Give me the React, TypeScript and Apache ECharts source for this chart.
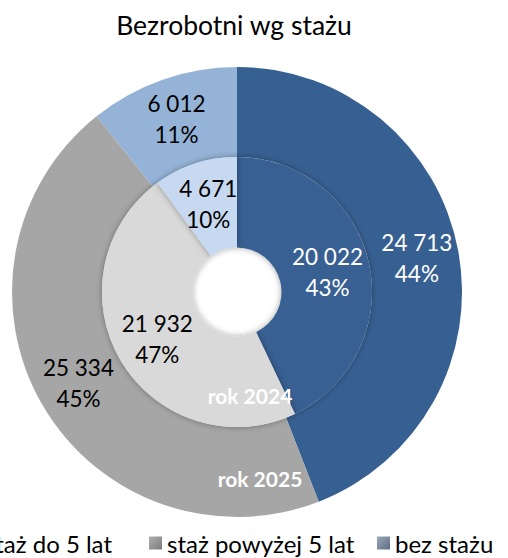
import React, { useEffect, useRef } from "react";
import * as echarts from "echarts";

const categories = ["staż do 5 lat", "staż powyżej 5 lat", "bez stażu"];
const values2025 = [24713, 25334, 6012];
const values2024 = [20022, 21932, 4671];
const outerColors = ["#376092", "#A6A6A6", "#95B3D7"];
const innerColors = ["#376092", "#D9D9D9", "#C6D9F1"];
const outerLabelColors = ["#ffffff", "#000000", "#000000"];
const innerLabelColors = ["#ffffff", "#000000", "#000000"];
const titleText = "Bezrobotni wg stażu";
const ringLabels = ["rok 2024", "rok 2025"];

const FONT = "Lato";

function fmt(v: number): string {
  return String(v).replace(/\B(?=(\d{3})+(?!\d))/g, " ");
}

export default function App() {
  const ref = useRef<HTMLDivElement>(null);
  useEffect(() => {
    document.body.style.margin = "0";
    if (!ref.current) return;
    const chart = echarts.init(ref.current, undefined, { renderer: "svg" });

    const mkData = (vals: number[], colors: string[], labelColors: string[]) =>
      vals.map((v, i) => ({
        name: categories[i],
        value: v,
        itemStyle: { color: colors[i] },
        label: { color: labelColors[i] },
      }));

    const labelCfg = {
      show: true,
      position: "inside",
      rotate: 0,
      fontFamily: FONT,
      fontSize: 22.5,
      lineHeight: 31,
      align: "center",
      formatter: (p: any) => `${fmt(p.value)}\n${p.percent}%`,
    };

    const legendMarker = (c1: string, c2: string) =>
      new echarts.graphic.LinearGradient(0, 0, 1, 1, [
        { offset: 0, color: c1 },
        { offset: 1, color: c2 },
      ]);

    const legendBase = {
      orient: "horizontal",
      icon: "rect",
      itemWidth: 13,
      itemHeight: 13,
      top: 525,
      selectedMode: false,
      textStyle: { fontFamily: FONT, fontSize: 24, color: "#000", lineHeight: 26 },
    };

    const ringLabel = (text: string, x: number, y: number) => ({
      type: "text",
      x,
      y,
      z: 100,
      style: {
        text,
        fontFamily: FONT,
        fontWeight: "bold",
        fontSize: 21,
        fill: "#fff",
        textAlign: "center",
        textVerticalAlign: "middle",
      },
    });

    chart.setOption({
      animation: false,
      graphic: [
        {
          type: "text",
          x: 234,
          y: 25,
          style: {
            text: titleText,
            fontFamily: FONT,
            fontSize: 26.5,
            fill: "#000",
            textAlign: "center",
            textVerticalAlign: "middle",
          },
        },
        ringLabel(ringLabels[0], 250, 395),
        ringLabel(ringLabels[1], 260, 478),
      ],
      legend: [
        {
          ...legendBase,
          right: 391,
          data: [{ name: categories[0], itemStyle: { color: legendMarker("#5a7aa6", "#2c4d78") } }],
        },
        {
          ...legendBase,
          left: 144,
          data: [{ name: categories[1], itemStyle: { color: legendMarker("#b0b0b0", "#7a7a7a") } }],
        },
        {
          ...legendBase,
          left: 372,
          data: [{ name: categories[2], itemStyle: { color: legendMarker("#9aa8ba", "#5e6e84") } }],
        },
      ],
      series: [
        {
          type: "pie",
          name: "2025",
          center: [237, 292],
          radius: [135, 225],
          startAngle: 90,
          clockwise: true,
          percentPrecision: 0,
          avoidLabelOverlap: false,
          silent: true,
          emphasis: { disabled: true },
          labelLine: { show: false },
          label: labelCfg,
          itemStyle: { borderWidth: 0 },
          data: mkData(values2025, outerColors, outerLabelColors),
        },
        {
          type: "pie",
          name: "2024",
          center: [237, 292],
          radius: [44.5, 135],
          startAngle: 90,
          clockwise: true,
          percentPrecision: 0,
          avoidLabelOverlap: false,
          silent: true,
          emphasis: { disabled: true },
          labelLine: { show: false },
          label: labelCfg,
          itemStyle: { borderWidth: 0, shadowBlur: 6, shadowColor: "rgba(0,0,0,0.35)" },
          data: mkData(values2024, innerColors, innerLabelColors),
        },
      ],
    });
    return () => chart.dispose();
  }, []);
  return <div ref={ref} style={{ width: 508, height: 558 }} />;
}
